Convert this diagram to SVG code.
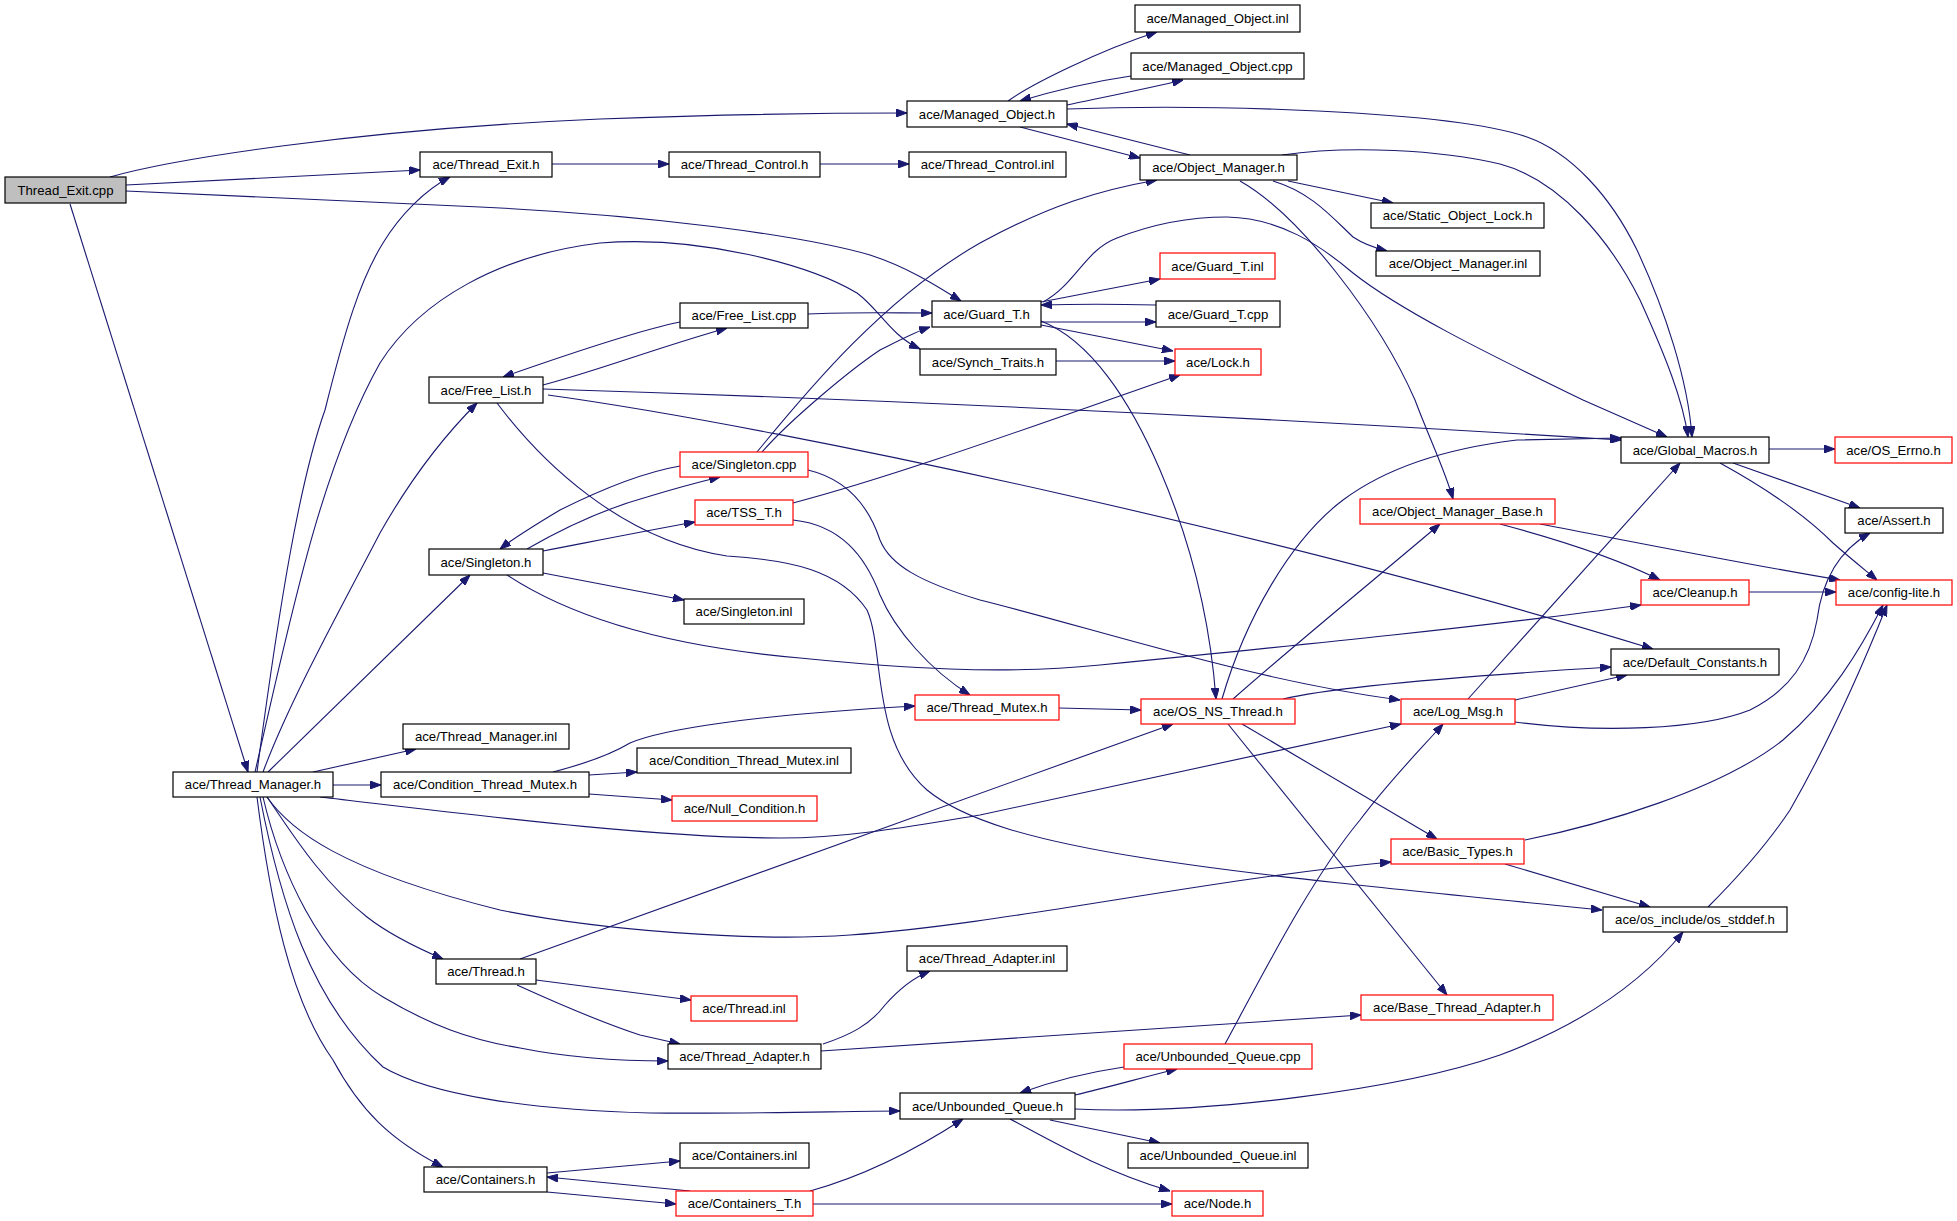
<svg xmlns="http://www.w3.org/2000/svg" width="1957" height="1221" viewBox="0 0 1957 1221">
<style>
rect{fill:#fff;stroke:#000;stroke-width:1.2}
.r rect{stroke:#f00}
.g rect{fill:#bfbfbf}
text{font-family:"Liberation Sans",Arial,sans-serif;font-size:13.2px;text-anchor:middle;fill:#000}
#edges path{fill:none;stroke:#191970;stroke-width:1.1;marker-end:url(#a)}
</style>
<defs>
<marker id="a" viewBox="0 0 11 8" refX="11" refY="4" markerWidth="11" markerHeight="8" markerUnits="userSpaceOnUse" orient="auto">
<path d="M0,0 L11,4 L0,8 z" fill="#191970" stroke="#191970"/>
</marker>
</defs>
<rect x="0" y="0" width="1957" height="1221" style="fill:#fff;stroke:none"/>
<g id="edges">
<path d="M110,177 C170,160 350,130 600,119 C760,113 860,113 907,113"/>
<path d="M126,185 L420,170"/>
<path d="M126,191 L480,207 C650,215 800,235 870,255 C910,268 940,288 961,301"/>
<path d="M70,204 L248,772"/>
<path d="M552,164 L669,164"/>
<path d="M820,164 L909,164"/>
<path d="M1008,101 C1030,85 1100,50 1157,32"/>
<path d="M1067,105 C1100,98 1150,88 1183,80"/>
<path d="M1131,76 C1090,82 1050,92 1020,101"/>
<path d="M1020,127 L1140,158"/>
<path d="M1190,155 L1067,124"/>
<path d="M1067,109 C1200,104 1450,110 1527,137 C1570,152 1610,195 1637,250 C1665,310 1688,380 1692,437"/>
<path d="M1282,155 C1350,145 1440,150 1500,164 C1560,180 1610,240 1640,300 C1665,355 1683,400 1688,437"/>
<path d="M1288,181 L1393,203"/>
<path d="M1273,181 C1310,192 1330,215 1353,237 C1365,245 1375,248 1387,251"/>
<path d="M1240,181 C1300,215 1380,320 1415,400 C1430,440 1445,470 1453,499"/>
<path d="M1041,302 L1160,279"/>
<path d="M1156,305 C1110,304 1080,304 1041,305"/>
<path d="M1041,322 L1156,322"/>
<path d="M1041,325 L1173,351"/>
<path d="M1041,321 C1090,340 1130,400 1160,470 C1190,540 1210,620 1216,699"/>
<path d="M1043,302 C1075,285 1085,250 1117,238 C1150,225 1190,217 1227,217 C1280,218 1320,245 1353,273 C1400,310 1480,350 1583,400 L1667,437"/>
<path d="M1056,361 L1175,361"/>
<path d="M255,772 C290,620 320,470 380,363 C420,300 500,255 600,243 C700,235 810,265 857,293 C880,310 890,335 920,349"/>
<path d="M257,772 C280,600 300,480 325,410 C345,330 360,280 383,243 C400,215 425,190 450,177"/>
<path d="M680,322 C640,330 580,350 503,377"/>
<path d="M543,385 C600,370 650,350 727,328"/>
<path d="M808,314 C850,312 890,313 932,313"/>
<path d="M543,389 C900,400 1300,420 1621,440"/>
<path d="M548,395 C800,430 1300,540 1653,649"/>
<path d="M497,403 C540,460 620,540 727,556 C790,560 840,570 867,610 C885,650 870,740 927,790 C1000,850 1200,870 1602,910"/>
<path d="M680,466 C640,473 600,490 560,510 C535,525 515,537 500,549"/>
<path d="M527,549 C560,530 600,510 647,497 C670,490 695,483 720,477"/>
<path d="M757,452 C800,400 880,300 980,243 C1050,205 1100,190 1157,180"/>
<path d="M762,452 C790,420 850,370 880,350 C900,340 915,332 930,327"/>
<path d="M808,470 C850,480 870,510 880,540 C890,565 920,582 980,600 C1100,630 1250,680 1400,700"/>
<path d="M543,551 C600,540 650,530 695,522"/>
<path d="M793,503 C900,475 1050,420 1180,375"/>
<path d="M793,520 C840,525 865,555 880,595 C895,630 930,670 970,695"/>
<path d="M543,573 L684,600"/>
<path d="M507,575 C560,610 650,645 800,658 C900,668 1000,675 1100,665 C1300,645 1500,625 1641,605"/>
<path d="M268,772 L470,575"/>
<path d="M263,772 C290,700 340,610 380,533 C410,480 440,440 477,403"/>
<path d="M313,772 L416,749"/>
<path d="M333,785 L381,785"/>
<path d="M320,797 C450,812 650,838 780,838 C850,838 920,825 980,815 L1401,724"/>
<path d="M267,797 C290,830 340,870 500,910 C600,930 750,942 850,935 C1000,925 1200,880 1391,862"/>
<path d="M267,797 C290,830 320,880 367,917 C390,935 415,947 443,959"/>
<path d="M263,797 C280,870 320,960 383,997 C430,1025 470,1040 520,1048 C570,1058 620,1061 668,1061"/>
<path d="M260,797 C280,900 310,1000 383,1067 C430,1095 530,1110 650,1113 C750,1114 850,1111 900,1111"/>
<path d="M257,797 C270,900 290,1000 333,1060 C360,1110 390,1140 443,1167"/>
<path d="M553,772 C580,765 610,755 630,743 C660,730 750,715 915,706"/>
<path d="M589,775 L637,772"/>
<path d="M589,794 L672,800"/>
<path d="M1059,708 L1141,710"/>
<path d="M520,959 L1173,724"/>
<path d="M536,980 L691,1000"/>
<path d="M517,985 C550,1000 600,1022 640,1035 L680,1044"/>
<path d="M823,1044 C850,1035 870,1025 885,1005 C900,988 915,977 930,971"/>
<path d="M821,1051 L1361,1015"/>
<path d="M1124,1067 C1090,1072 1050,1082 1020,1093"/>
<path d="M1075,1095 C1110,1087 1140,1078 1177,1069"/>
<path d="M1225,1044 C1260,980 1310,880 1360,820 C1390,780 1420,750 1443,724"/>
<path d="M1075,1109 C1200,1115 1400,1090 1500,1055 C1580,1025 1640,985 1683,932"/>
<path d="M1050,1120 L1160,1143"/>
<path d="M1010,1119 C1050,1140 1100,1170 1170,1191"/>
<path d="M810,1191 C850,1180 900,1160 963,1119"/>
<path d="M813,1204 L1172,1204"/>
<path d="M547,1173 L680,1161"/>
<path d="M690,1191 L547,1177"/>
<path d="M547,1192 L676,1204"/>
<path d="M1222,699 C1245,620 1290,540 1343,500 C1390,465 1450,448 1517,440 L1621,438"/>
<path d="M1233,699 C1300,640 1380,575 1440,524"/>
<path d="M1283,699 C1320,690 1400,680 1611,667"/>
<path d="M1242,724 L1437,839"/>
<path d="M1228,724 L1447,995"/>
<path d="M1500,524 C1560,540 1620,560 1660,580"/>
<path d="M1540,524 C1650,545 1750,565 1840,580"/>
<path d="M1749,592 L1836,592"/>
<path d="M1769,449 L1835,449"/>
<path d="M1733,463 L1860,508"/>
<path d="M1720,463 C1760,485 1800,510 1833,543 C1850,558 1865,570 1877,580"/>
<path d="M1468,699 L1680,463"/>
<path d="M1515,700 L1627,675"/>
<path d="M1515,722 C1600,733 1700,730 1750,710 C1790,690 1810,660 1817,620 C1822,580 1840,550 1870,533"/>
<path d="M1525,840 C1600,825 1720,790 1783,740 C1830,700 1860,650 1883,605"/>
<path d="M1505,864 L1650,907"/>
<path d="M1708,907 C1740,875 1770,840 1790,810 C1830,740 1865,660 1887,605"/>
</g>
<g id="n1" class="g"><rect x="5" y="177" width="121" height="26"/><text x="65.5" y="194.8">Thread_Exit.cpp</text></g>
<g id="n2"><rect x="420" y="152" width="132" height="25"/><text x="486" y="169.3">ace/Thread_Exit.h</text></g>
<g id="n3"><rect x="669" y="152" width="151" height="25"/><text x="744.5" y="169.3">ace/Thread_Control.h</text></g>
<g id="n4"><rect x="909" y="152" width="157" height="25"/><text x="987.5" y="169.3">ace/Thread_Control.inl</text></g>
<g id="n5"><rect x="907" y="101" width="160" height="26"/><text x="987" y="118.8">ace/Managed_Object.h</text></g>
<g id="n6"><rect x="1135" y="5" width="165" height="27"/><text x="1217.5" y="23.3">ace/Managed_Object.inl</text></g>
<g id="n7"><rect x="1131" y="53" width="173" height="26"/><text x="1217.5" y="70.8">ace/Managed_Object.cpp</text></g>
<g id="n8"><rect x="1140" y="155" width="157" height="25"/><text x="1218.5" y="172.3">ace/Object_Manager.h</text></g>
<g id="n9"><rect x="1371" y="203" width="173" height="25"/><text x="1457.5" y="220.3">ace/Static_Object_Lock.h</text></g>
<g id="n10"><rect x="1376" y="251" width="164" height="25"/><text x="1458" y="268.3">ace/Object_Manager.inl</text></g>
<g id="n11" class="r"><rect x="1160" y="253" width="115" height="26"/><text x="1217.5" y="270.8">ace/Guard_T.inl</text></g>
<g id="n12"><rect x="932" y="301" width="109" height="26"/><text x="986.5" y="318.8">ace/Guard_T.h</text></g>
<g id="n13"><rect x="1156" y="301" width="124" height="26"/><text x="1218" y="318.8">ace/Guard_T.cpp</text></g>
<g id="n14"><rect x="920" y="349" width="136" height="26"/><text x="988" y="366.8">ace/Synch_Traits.h</text></g>
<g id="n15" class="r"><rect x="1175" y="349" width="86" height="26"/><text x="1218" y="366.8">ace/Lock.h</text></g>
<g id="n16"><rect x="680" y="303" width="128" height="25"/><text x="744" y="320.3">ace/Free_List.cpp</text></g>
<g id="n17"><rect x="429" y="377" width="114" height="26"/><text x="486" y="394.8">ace/Free_List.h</text></g>
<g id="n18"><rect x="1621" y="437" width="148" height="26"/><text x="1695" y="454.8">ace/Global_Macros.h</text></g>
<g id="n19" class="r"><rect x="1835" y="437" width="117" height="26"/><text x="1893.5" y="454.8">ace/OS_Errno.h</text></g>
<g id="n20" class="r"><rect x="680" y="452" width="128" height="25"/><text x="744" y="469.3">ace/Singleton.cpp</text></g>
<g id="n21" class="r"><rect x="695" y="500" width="98" height="25"/><text x="744" y="517.3">ace/TSS_T.h</text></g>
<g id="n22" class="r"><rect x="1360" y="499" width="195" height="25"/><text x="1457.5" y="516.3">ace/Object_Manager_Base.h</text></g>
<g id="n23"><rect x="1845" y="508" width="98" height="25"/><text x="1894" y="525.3">ace/Assert.h</text></g>
<g id="n24"><rect x="429" y="549" width="114" height="26"/><text x="486" y="566.8">ace/Singleton.h</text></g>
<g id="n25" class="r"><rect x="1641" y="580" width="108" height="25"/><text x="1695" y="597.3">ace/Cleanup.h</text></g>
<g id="n26" class="r"><rect x="1836" y="580" width="116" height="25"/><text x="1894" y="597.3">ace/config-lite.h</text></g>
<g id="n27"><rect x="684" y="599" width="120" height="25"/><text x="744" y="616.3">ace/Singleton.inl</text></g>
<g id="n28"><rect x="1611" y="649" width="168" height="26"/><text x="1695" y="666.8">ace/Default_Constants.h</text></g>
<g id="n29" class="r"><rect x="915" y="695" width="144" height="25"/><text x="987" y="712.3">ace/Thread_Mutex.h</text></g>
<g id="n30" class="r"><rect x="1141" y="699" width="154" height="25"/><text x="1218" y="716.3">ace/OS_NS_Thread.h</text></g>
<g id="n31" class="r"><rect x="1401" y="699" width="114" height="25"/><text x="1458" y="716.3">ace/Log_Msg.h</text></g>
<g id="n32"><rect x="403" y="724" width="166" height="25"/><text x="486" y="741.3">ace/Thread_Manager.inl</text></g>
<g id="n33"><rect x="173" y="772" width="160" height="25"/><text x="253" y="789.3">ace/Thread_Manager.h</text></g>
<g id="n34"><rect x="381" y="772" width="208" height="25"/><text x="485" y="789.3">ace/Condition_Thread_Mutex.h</text></g>
<g id="n35"><rect x="637" y="748" width="214" height="25"/><text x="744" y="765.3">ace/Condition_Thread_Mutex.inl</text></g>
<g id="n36" class="r"><rect x="672" y="796" width="145" height="25"/><text x="744.5" y="813.3">ace/Null_Condition.h</text></g>
<g id="n37" class="r"><rect x="1391" y="839" width="133" height="25"/><text x="1457.5" y="856.3">ace/Basic_Types.h</text></g>
<g id="n38"><rect x="1603" y="907" width="184" height="25"/><text x="1695" y="924.3">ace/os_include/os_stddef.h</text></g>
<g id="n39"><rect x="436" y="959" width="100" height="25"/><text x="486" y="976.3">ace/Thread.h</text></g>
<g id="n40"><rect x="907" y="946" width="160" height="25"/><text x="987" y="963.3">ace/Thread_Adapter.inl</text></g>
<g id="n41" class="r"><rect x="691" y="996" width="106" height="25"/><text x="744" y="1013.3">ace/Thread.inl</text></g>
<g id="n42" class="r"><rect x="1361" y="995" width="192" height="25"/><text x="1457" y="1012.3">ace/Base_Thread_Adapter.h</text></g>
<g id="n43"><rect x="668" y="1044" width="153" height="25"/><text x="744.5" y="1061.3">ace/Thread_Adapter.h</text></g>
<g id="n44" class="r"><rect x="1124" y="1044" width="188" height="25"/><text x="1218" y="1061.3">ace/Unbounded_Queue.cpp</text></g>
<g id="n45"><rect x="900" y="1093" width="175" height="26"/><text x="987.5" y="1110.8">ace/Unbounded_Queue.h</text></g>
<g id="n46"><rect x="680" y="1143" width="129" height="25"/><text x="744.5" y="1160.3">ace/Containers.inl</text></g>
<g id="n47"><rect x="1128" y="1143" width="180" height="25"/><text x="1218" y="1160.3">ace/Unbounded_Queue.inl</text></g>
<g id="n48"><rect x="424" y="1167" width="123" height="25"/><text x="485.5" y="1184.3">ace/Containers.h</text></g>
<g id="n49" class="r"><rect x="676" y="1191" width="137" height="25"/><text x="744.5" y="1208.3">ace/Containers_T.h</text></g>
<g id="n50" class="r"><rect x="1172" y="1191" width="91" height="25"/><text x="1217.5" y="1208.3">ace/Node.h</text></g>
</svg>
